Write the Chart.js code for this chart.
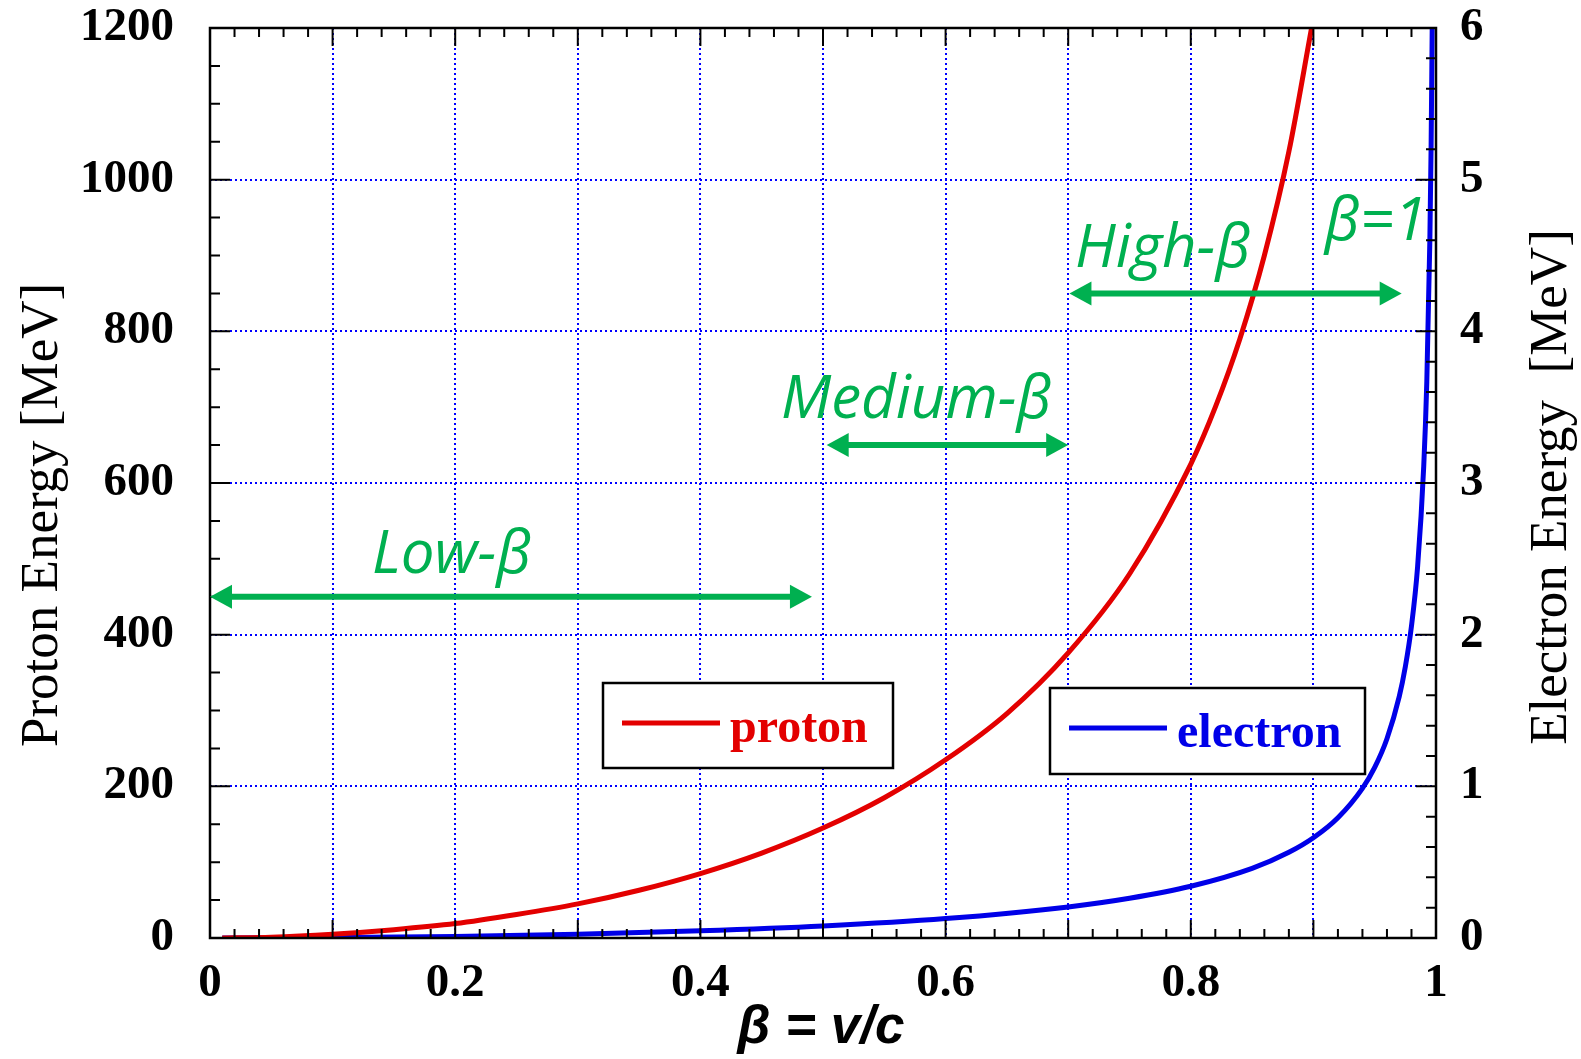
<!DOCTYPE html>
<html>
<head>
<meta charset="utf-8">
<title>Proton and electron kinetic energy vs beta</title>
<script src="https://cdn.jsdelivr.net/npm/chart.js@4.4.1/dist/chart.umd.min.js"></script>
<style>
  html, body { margin: 0; padding: 0; background: #fff; }
</style>
</head>
<body>
<canvas id="energyChart" width="1581" height="1059"></canvas>
<script>
// values
const protonBeta = [0.01, 0.05, 0.1, 0.15, 0.2, 0.25, 0.3, 0.35, 0.4, 0.45, 0.5, 0.55,
                    0.6, 0.65, 0.7, 0.75, 0.8, 0.82, 0.84, 0.86, 0.88, 0.8985];
const protonMeV = [0, 1, 5, 11, 19, 31, 45, 63, 85, 112, 145, 185,
                   235, 296, 376, 480, 625, 700, 790, 900, 1037, 1200];

const electronBeta = [0.01, 0.1, 0.2, 0.3, 0.4, 0.5, 0.6, 0.7, 0.75, 0.8, 0.85, 0.88, 0.9,
                      0.92, 0.94, 0.95, 0.96, 0.97, 0.975, 0.98, 0.985, 0.99, 0.9925, 0.995, 0.996, 0.9969];
const electronMeV = [0, 0.003, 0.01, 0.025, 0.047, 0.079, 0.128, 0.205, 0.262, 0.341, 0.459, 0.565, 0.661,
                     0.793, 0.987, 1.125, 1.314, 1.591, 1.789, 2.057, 2.449, 3.111, 3.667, 4.605, 5.208, 6.0];

const xTickLabels = ['0', '0.2', '0.4', '0.6', '0.8', '1'];
const leftTickLabels = ['0', '200', '400', '600', '800', '1000', '1200'];
const rightTickLabels = ['0', '1', '2', '3', '4', '5', '6'];

// beta regions (arrows) and their labels
const regionNames = ['Low-β', 'Medium-β', 'High-β'];
const regionFrom = [0, 0.503, 0.701];
const regionTo = [0.491, 0.700, 0.972];
const regionLevel = [450, 650, 850];

const noteTexts = ['Low-β', 'Medium-β', 'High-β', 'β=1'];
const noteBeta = [0.197, 0.576, 0.777, 0.951];
const noteLevel = [481, 686, 885, 920];

const RED = '#e30000';
const BLUE = '#0000e8';
const GREEN = '#00b050';
const SERIF = '"Liberation Serif", "Times New Roman", serif';

function pairs(xs, ys) {
    return xs.map((x, i) => ({ x: x, y: ys[i] }));
}

const frameAndTicks = {
    id: 'frameAndTicks',
    afterDatasetsDraw(chart) {
        const { ctx, chartArea: a, scales: { x, y, y2 } } = chart;
        ctx.save();
        ctx.strokeStyle = '#000';
        ctx.lineWidth = 2;
        ctx.beginPath();
        for (let i = 0; i <= 50; i++) {
            const px = x.getPixelForValue(i / 50);
            const len = i % 5 === 0 ? 18 : 9;
            ctx.moveTo(px, a.bottom); ctx.lineTo(px, a.bottom - len);
            ctx.moveTo(px, a.top); ctx.lineTo(px, a.top + len);
        }
        for (let i = 0; i <= 24; i++) {
            const py = y.getPixelForValue(i * 50);
            ctx.moveTo(a.left, py); ctx.lineTo(a.left + (i % 4 === 0 ? 20 : 10), py);
        }
        for (let i = 0; i <= 30; i++) {
            const py = y2.getPixelForValue(i * 0.2);
            ctx.moveTo(a.right, py); ctx.lineTo(a.right - (i % 5 === 0 ? 20 : 10), py);
        }
        ctx.stroke();
        ctx.lineWidth = 2.5;
        ctx.strokeRect(a.left, a.top, a.width, a.height);
        ctx.restore();
    }
};

function arrowHead(ctx, xTip, yTip, dir) {
    ctx.beginPath();
    ctx.moveTo(xTip, yTip);
    ctx.lineTo(xTip - dir * 22, yTip - 12);
    ctx.lineTo(xTip - dir * 22, yTip + 12);
    ctx.closePath();
    ctx.fill();
}

const notes = {
    id: 'notes',
    afterDraw(chart) {
        const { ctx, scales: { x, y } } = chart;
        ctx.save();

        // green region arrows
        ctx.strokeStyle = GREEN;
        ctx.fillStyle = GREEN;
        ctx.lineWidth = 6;
        regionNames.forEach((name, i) => {
            const x0 = x.getPixelForValue(regionFrom[i]);
            const x1 = x.getPixelForValue(regionTo[i]);
            const py = y.getPixelForValue(regionLevel[i]);
            ctx.beginPath();
            ctx.moveTo(x0 + 18, py);
            ctx.lineTo(x1 - 18, py);
            ctx.stroke();
            arrowHead(ctx, x0, py, -1);
            arrowHead(ctx, x1, py, 1);
        });

        ctx.font = 'italic 60px "Open Sans", "Noto Sans", sans-serif';
        ctx.textAlign = 'center';
        ctx.textBaseline = 'alphabetic';
        noteTexts.forEach((t, i) => {
            ctx.fillText(t, x.getPixelForValue(noteBeta[i]), y.getPixelForValue(noteLevel[i]));
        });

        // legend boxes
        const boxes = [
            { label: 'proton', color: RED, left: 603, top: 683, w: 290, h: 85 },
            { label: 'electron', color: BLUE, left: 1050, top: 688, w: 315, h: 86 }
        ];
        boxes.forEach(b => {
            ctx.fillStyle = '#fff';
            ctx.fillRect(b.left, b.top, b.w, b.h);
            ctx.strokeStyle = '#000';
            ctx.lineWidth = 2.5;
            ctx.strokeRect(b.left, b.top, b.w, b.h);
            ctx.strokeStyle = b.color;
            ctx.lineWidth = 5;
            ctx.beginPath();
            ctx.moveTo(b.left + 19, b.top + 40);
            ctx.lineTo(b.left + 117, b.top + 40);
            ctx.stroke();
            ctx.fillStyle = b.color;
            ctx.font = 'bold 48px ' + SERIF;
            ctx.textAlign = 'left';
            ctx.fillText(b.label, b.left + 127, b.top + 59);
        });

        // axis titles
        ctx.fillStyle = '#000';
        ctx.textAlign = 'center';
        ctx.font = '53px ' + SERIF;
        ctx.save();
        ctx.translate(57, 515);
        ctx.rotate(-Math.PI / 2);
        ctx.fillText('Proton Energy [MeV]', 0, 0);
        ctx.restore();
        ctx.save();
        ctx.translate(1566, 487);
        ctx.rotate(-Math.PI / 2);
        ctx.fillText('Electron Energy  [MeV]', 0, 0);
        ctx.restore();

        ctx.font = 'italic bold 53px "Liberation Sans", Arial, sans-serif';
        ctx.fillText('β = v/c', 821, 1043);
        ctx.restore();
    }
};

const gridStyle = { color: '#0000ff', lineWidth: 2, drawTicks: false };
const tickFont = { family: SERIF, size: 47, weight: 'bold', lineHeight: 1 };

new Chart(document.getElementById('energyChart'), {
    type: 'line',
    data: {
        datasets: [
            {
                label: 'proton',
                data: pairs(protonBeta, protonMeV),
                yAxisID: 'y',
                borderColor: RED,
                borderWidth: 5,
                pointRadius: 0,
                cubicInterpolationMode: 'monotone'
            },
            {
                label: 'electron',
                data: pairs(electronBeta, electronMeV),
                yAxisID: 'y2',
                borderColor: BLUE,
                borderWidth: 5,
                pointRadius: 0,
                cubicInterpolationMode: 'monotone'
            }
        ]
    },
    options: {
        responsive: false,
        animation: false,
        devicePixelRatio: 1,
        layout: { padding: { top: 28, left: 0, right: 0, bottom: 0 } },
        plugins: {
            legend: { display: false },
            tooltip: { enabled: false }
        },
        scales: {
            x: {
                type: 'linear',
                min: 0,
                max: 1,
                grid: gridStyle,
                border: { display: false, dash: [2, 3] },
                ticks: {
                    stepSize: 0.1,
                    autoSkip: false,
                    maxRotation: 0,
                    padding: 22,
                    color: '#000',
                    font: tickFont,
                    callback: v => {
                        const i = Math.round(v * 10);
                        return i % 2 === 0 ? xTickLabels[i / 2] : '';
                    }
                },
                afterFit: s => { s.height = 121; s.paddingLeft = 0; s.paddingRight = 0; }
            },
            y: {
                position: 'left',
                min: 0,
                max: 1200,
                grid: gridStyle,
                border: { display: false, dash: [2, 3] },
                ticks: {
                    stepSize: 200,
                    padding: 36,
                    color: '#000',
                    font: tickFont,
                    callback: v => leftTickLabels[Math.round(v / 200)]
                },
                afterFit: s => { s.width = 210; s.paddingTop = 0; s.paddingBottom = 0; }
            },
            y2: {
                position: 'right',
                min: 0,
                max: 6,
                grid: { display: false, drawTicks: false },
                border: { display: false },
                ticks: {
                    stepSize: 1,
                    padding: 24,
                    color: '#000',
                    font: tickFont,
                    callback: v => rightTickLabels[Math.round(v)]
                },
                afterFit: s => { s.width = 145; s.paddingTop = 0; s.paddingBottom = 0; }
            }
        }
    },
    plugins: [frameAndTicks, notes]
});
</script>
</body>
</html>
